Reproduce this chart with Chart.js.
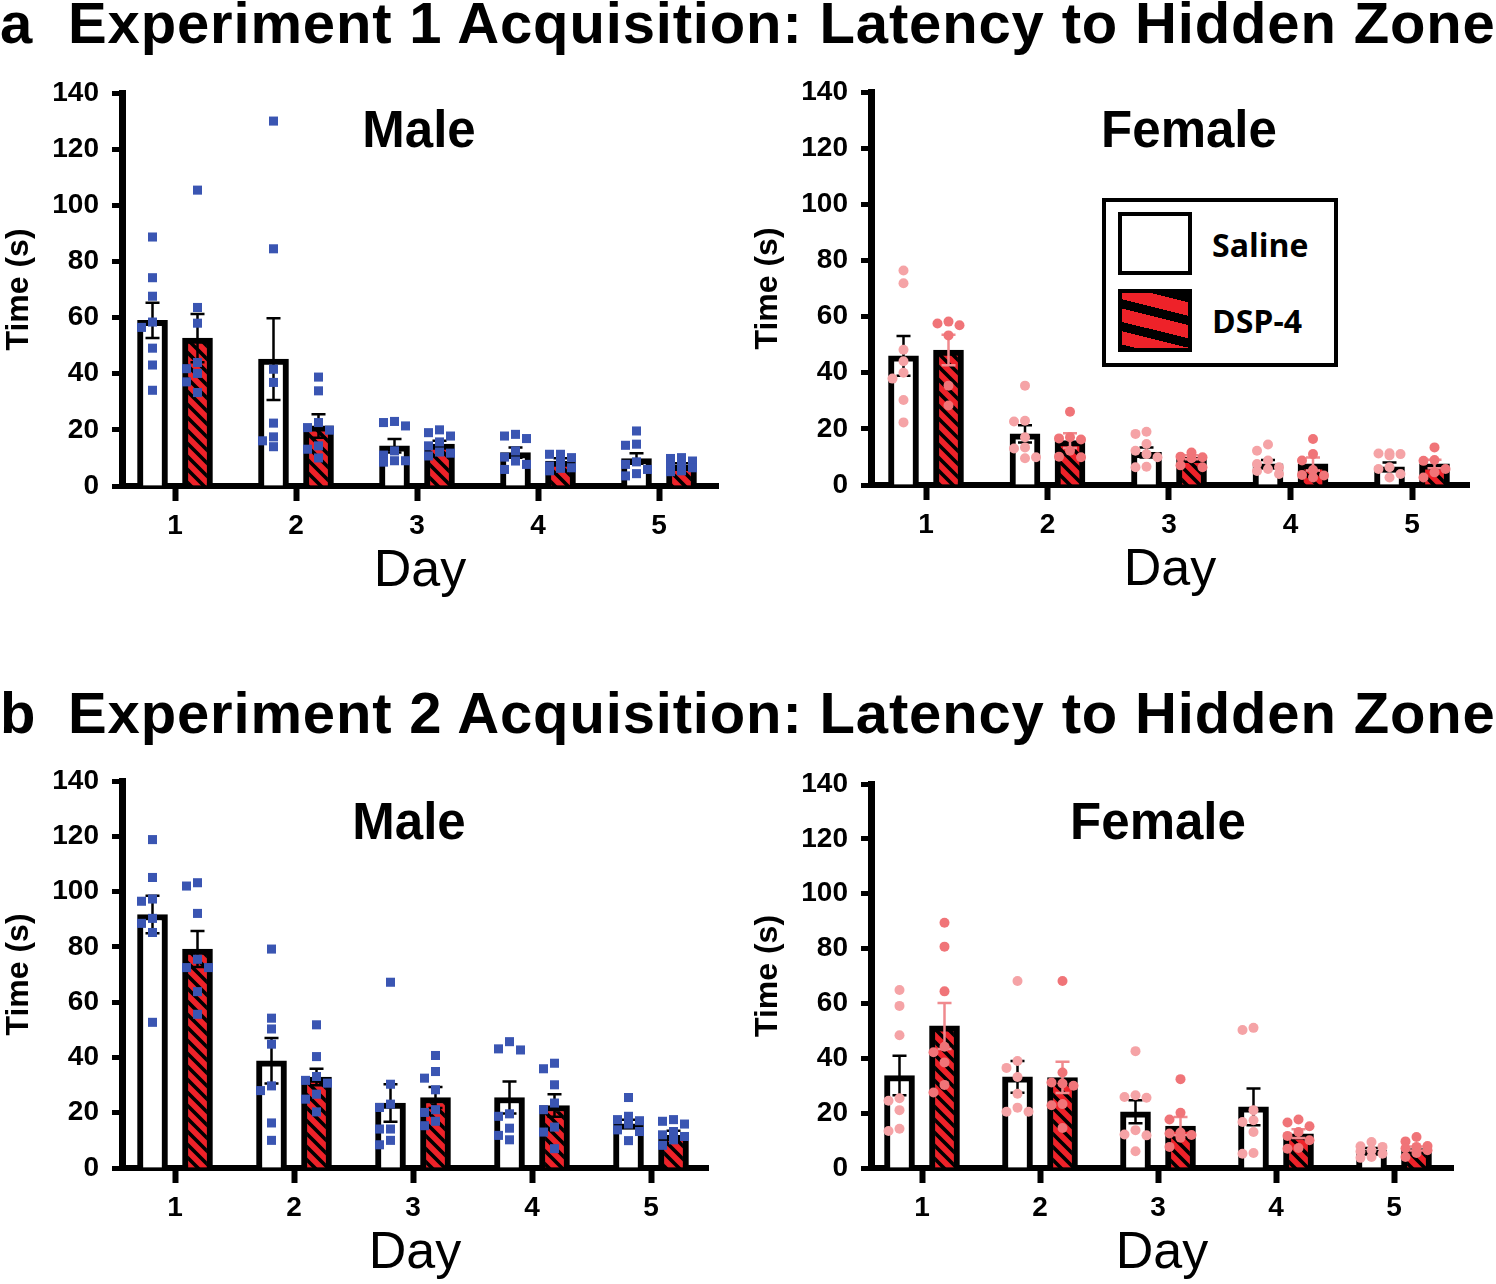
<!DOCTYPE html>
<html>
<head>
<meta charset="utf-8">
<script src="https://cdn.jsdelivr.net/npm/chart.js@4.4.0/dist/chart.umd.min.js"></script>
<style>
  html, body { margin: 0; padding: 0; background: #fff; }
  body { width: 1496px; height: 1284px; position: relative; overflow: hidden;
         font-family: 'Liberation Sans', Arial, sans-serif; color: #000; }
  canvas { position: absolute; }
  .txt { position: absolute; white-space: nowrap; line-height: 1; z-index: 2; }
  .head { font-weight: bold; font-size: 58px; letter-spacing: 0.85px; }
  .ptitle { font-weight: bold; font-size: 51px; transform: translateX(-50%); }
  .legend { position: absolute; box-sizing: border-box; border: 4px solid #000; background: #fff; z-index: 2; }
  .swatch { position: absolute; box-sizing: border-box; border: 4px solid #000; z-index: 3; }
  .legtxt { font-family: 'Open Sans', sans-serif; font-weight: 700; font-size: 32px; z-index: 3; }
</style>
</head>
<body>

<div class="txt head" style="left:0px;top:-6px;">a</div>
<div class="txt head" style="left:68px;top:-6px;">Experiment 1 Acquisition: Latency to Hidden Zone</div>
<div class="txt head" style="left:0px;top:684px;">b</div>
<div class="txt head" style="left:68px;top:684px;">Experiment 2 Acquisition: Latency to Hidden Zone</div>

<div class="txt ptitle" style="left:419px;top:104px;">Male</div>
<div class="txt ptitle" style="left:1189px;top:104px;">Female</div>
<div class="txt ptitle" style="left:409px;top:796px;">Male</div>
<div class="txt ptitle" style="left:1158px;top:796px;">Female</div>

<div class="legend" style="left:1102px;top:198px;width:236px;height:169px;"></div>
<div class="swatch" style="left:1118px;top:212px;width:74px;height:63px;background:#fff;"></div>
<div class="swatch" id="dspSwatch" style="left:1118px;top:289px;width:74px;height:63px;"></div>
<div class="txt legtxt" id="legSaline" style="left:1212px;top:229px;"></div>
<div class="txt legtxt" id="legDsp" style="left:1212px;top:305px;"></div>

<canvas id="c-e1-male"></canvas>
<canvas id="c-e1-female"></canvas>
<canvas id="c-e2-male"></canvas>
<canvas id="c-e2-female"></canvas>

<script>
// ---- data ----
const days = [1, 2, 3, 4, 5];
const yTicks = [0, 20, 40, 60, 80, 100, 120, 140];
const groupLabels = ['Saline', 'DSP-4'];

// Experiment 1, male
const e1MaleSalineMean = [59.0, 45.2, 14.3, 11.9, 9.8];
const e1MaleSalineSem  = [6.3, 14.6, 2.4, 1.8, 1.9];
const e1MaleDspMean    = [52.7, 21.4, 14.9, 8.9, 7.4];
const e1MaleDspSem     = [8.6, 4.2, 1.2, 1.0, 0.7];
const e1MaleSalinePts = [
  [88.7, 74.2, 67.6, 58.4, 56.5, 49.1, 43.1, 34.1],
  [130, 84.5, 41.6, 36.9, 22.4, 17.5, 16.1, 14.0],
  [23.0, 22.6, 21.4, 12.5, 11.0, 9.0, 9.0, 8.5],
  [18.4, 17.8, 16.9, 12.5, 10.3, 8.9, 7.7, 5.9],
  [19.6, 14.9, 14.5, 8.6, 7.7, 5.9, 4.4, 3.6]
];
const e1MaleDspPts = [
  [105.4, 63.6, 58.0, 44.0, 41.8, 40.1, 37.1, 33.3],
  [38.8, 33.9, 22.6, 20.8, 19.9, 14.3, 13.1, 10.0],
  [20.0, 19.0, 17.8, 15.7, 14.3, 12.1, 11.7, 10.7],
  [11.3, 11.3, 10.1, 8.6, 7.1, 6.5, 6.3, 5.4],
  [10.1, 9.8, 8.9, 7.7, 7.0, 6.5, 5.4, 5.1]
];

// Experiment 1, female
const e1FemaleSalineMean = [46.0, 18.2, 11.6, 7.5, 6.5];
const e1FemaleSalineSem  = [7.1, 3.1, 1.8, 1.4, 1.5];
const e1FemaleDspMean    = [48.1, 15.8, 9.9, 7.5, 7.5];
const e1FemaleDspSem     = [5.4, 2.6, 0.7, 2.3, 1.5];
const e1FemaleSalinePts = [
  [76.4, 71.9, 48.2, 44.1, 40.0, 37.9, 30.3, 22.3],
  [35.4, 22.9, 22.6, 17.0, 13.4, 13.0, 9.9, 9.5],
  [19.0, 18.2, 14.6, 12.2, 11.0, 9.9, 6.5, 6.3],
  [14.4, 12.2, 8.7, 7.5, 6.3, 5.7, 5.0, 3.9],
  [11.3, 11.2, 11.0, 10.5, 6.3, 5.7, 3.9, 2.7]
];
const e1FemaleDspPts = [
  [58.2, 57.5, 56.9, 53.3, 35.4, 28.3],
  [26.1, 17.0, 16.6, 16.2, 12.2, 10.1, 9.9],
  [11.6, 10.1, 9.9, 9.5, 7.0, 6.3],
  [16.4, 11.0, 8.7, 5.3, 3.6, 3.4, 2.7],
  [13.4, 8.9, 8.6, 5.7, 4.5, 2.7]
];

// Experiment 2, male
const e2MaleSalineMean = [91.7, 38.8, 23.5, 25.5, 16.0];
const e2MaleSalineSem  = [6.8, 8.2, 6.8, 5.8, 1.5];
const e2MaleDspMean    = [79.2, 32.9, 25.5, 22.6, 11.8];
const e2MaleDspSem     = [6.5, 3.0, 3.8, 4.1, 1.7];
const e2MaleSalinePts = [
  [118.8, 105.1, 97.3, 96.5, 90.3, 88.5, 85.2, 52.7],
  [79.2, 54.2, 50.3, 44.8, 29.7, 28.0, 16.3, 10.0],
  [67.2, 30.3, 23.1, 21.9, 14.1, 14.1, 10.0, 8.4],
  [45.7, 43.1, 42.7, 19.6, 18.7, 14.4, 11.8, 10.2],
  [25.5, 18.7, 17.5, 17.1, 15.9, 13.8, 13.2, 9.9]
];
const e2MaleDspPts = [
  [103.2, 102.0, 92.1, 75.5, 72.5, 72.5, 63.8, 55.6],
  [51.8, 40.3, 33.1, 31.7, 30.7, 26.7, 24.9, 20.3],
  [40.7, 34.9, 32.5, 28.3, 21.1, 20.1, 16.9, 15.3],
  [37.9, 35.9, 30.1, 23.5, 21.1, 14.8, 13.0, 7.0],
  [17.5, 16.9, 15.9, 13.2, 12.0, 11.4, 10.2, 8.2]
];

// Experiment 2, female
const e2FemaleSalineMean = [33.7, 33.2, 20.5, 22.3, 6.5];
const e2FemaleSalineSem  = [7.2, 5.8, 4.2, 6.7, 0.8];
const e2FemaleDspMean    = [51.8, 33.0, 15.3, 12.5, 7.1];
const e2FemaleDspSem     = [8.4, 5.7, 3.3, 1.6, 0.7];
const e2FemaleSalinePts = [
  [64.9, 59.1, 48.4, 25.4, 24.5, 21.1, 14.3, 13.5],
  [68.2, 39.0, 36.5, 33.2, 27.1, 22.0, 20.5, 20.5],
  [42.6, 26.5, 25.9, 25.6, 13.8, 12.2, 11.9, 6.1],
  [51.1, 50.3, 21.1, 17.4, 16.8, 13.1, 5.5, 5.2],
  [9.5, 7.9, 7.7, 6.5, 6.0, 5.2, 4.0, 3.7]
];
const e2FemaleDspPts = [
  [89.4, 80.7, 64.4, 44.2, 42.2, 38.5, 30.3, 27.5],
  [68.2, 34.8, 31.2, 30.8, 30.0, 23.3, 22.9, 14.6],
  [32.4, 20.1, 17.7, 12.9, 12.6, 12.0, 11.0, 7.7],
  [17.7, 16.6, 15.2, 13.1, 11.7, 10.1, 7.3, 7.0],
  [11.3, 9.7, 8.0, 7.7, 7.2, 6.5, 5.5, 4.0]
];

// ---- styling ----
const FONT = "'Liberation Sans', Arial, sans-serif";
const RED = '#ee2229';
const MALE_DOT = '#3a55b2';
const FEMALE_SAL_DOT = '#f5a3a6';
const FEMALE_DSP_DOT = '#f07478';
const FEMALE_DSP_ERR = '#f08a8e';

function stripePattern(size, width) {
  const c = document.createElement('canvas');
  c.width = c.height = size;
  const g = c.getContext('2d');
  g.fillStyle = RED;
  g.fillRect(0, 0, size, size);
  g.strokeStyle = '#000';
  g.lineWidth = width;
  g.beginPath();
  for (const k of [-1, 0, 1]) {
    g.moveTo(k * size - size, -size);
    g.lineTo(k * size + 2 * size, 2 * size);
  }
  g.stroke();
  return g.createPattern(c, 'repeat');
}
const barPattern = stripePattern(13, 3.6);

// spread overlapping dots over three columns (centre, left, right)
function swarmColumns(values, pxPerUnit, size) {
  const placed = [];
  return values.map(v => {
    const py = v * pxPerUnit;
    let best = 0, bestGap = -1;
    for (const k of [0, -1, 1]) {
      const gap = Math.min(Infinity, ...placed.filter(p => p.k === k).map(p => Math.abs(p.py - py)));
      if (gap >= size) { best = k; bestGap = Infinity; break; }
      if (gap > bestGap) { best = k; bestGap = gap; }
    }
    placed.push({ k: best, py });
    return best;
  });
}

const errorBarPlugin = {
  id: 'errorBars',
  afterDatasetDraw(chart, args) {
    const ds = chart.data.datasets[args.index];
    if (!ds.sem) return;
    const y = chart.scales.y;
    const ctx = chart.ctx;
    ctx.save();
    ctx.strokeStyle = ds.errorColor;
    ctx.lineWidth = 2.5;
    args.meta.data.forEach((bar, i) => {
      const m = ds.data[i].y, e = ds.sem[i];
      const top = y.getPixelForValue(m + e);
      const bot = y.getPixelForValue(m - e);
      ctx.beginPath();
      ctx.moveTo(bar.x, top); ctx.lineTo(bar.x, bot);
      ctx.moveTo(bar.x - 7, top); ctx.lineTo(bar.x + 7, top);
      ctx.moveTo(bar.x - 7, bot); ctx.lineTo(bar.x + 7, bot);
      ctx.stroke();
    });
    ctx.restore();
  }
};

const panels = [
  { id: 'c-e1-male', male: true, area: { left: 122, top: 93, right: 718, bottom: 486 }, day1: 175, step: 121,
    sal: [e1MaleSalineMean, e1MaleSalineSem, e1MaleSalinePts], dsp: [e1MaleDspMean, e1MaleDspSem, e1MaleDspPts] },
  { id: 'c-e1-female', male: false, area: { left: 871, top: 92, right: 1469, bottom: 485 }, day1: 926, step: 121.5,
    sal: [e1FemaleSalineMean, e1FemaleSalineSem, e1FemaleSalinePts], dsp: [e1FemaleDspMean, e1FemaleDspSem, e1FemaleDspPts] },
  { id: 'c-e2-male', male: true, area: { left: 122, top: 781, right: 708, bottom: 1168 }, day1: 175, step: 119,
    sal: [e2MaleSalineMean, e2MaleSalineSem, e2MaleSalinePts], dsp: [e2MaleDspMean, e2MaleDspSem, e2MaleDspPts] },
  { id: 'c-e2-female', male: false, area: { left: 871, top: 784, right: 1453, bottom: 1168 }, day1: 922, step: 118,
    sal: [e2FemaleSalineMean, e2FemaleSalineSem, e2FemaleSalinePts], dsp: [e2FemaleDspMean, e2FemaleDspSem, e2FemaleDspPts] }
];

const BAR_OFFSET_PX = 22.5;
const COL_PX = 11;

function buildPanel(p) {
  const a = p.area;
  const box = { left: a.left - 122, top: a.top - 45, width: a.right - a.left + 122 + 22, height: a.bottom - a.top + 45 + 120 };
  const cv = document.getElementById(p.id);
  cv.width = box.width; cv.height = box.height;
  cv.style.left = box.left + 'px'; cv.style.top = box.top + 'px';

  const xMin = 1 - (p.day1 - a.left) / p.step;
  const xMax = 5 + (a.right - (p.day1 + 4 * p.step)) / p.step;
  const off = BAR_OFFSET_PX / p.step;
  const pxPerUnit = (a.bottom - a.top) / 140;
  const dotSize = p.male ? 9 : 10;

  const barSet = (stats, side, label) => ({
    type: 'bar',
    label,
    data: days.map((d, i) => ({ x: d + side * off, y: stats[0][i] })),
    sem: stats[1],
    errorColor: (!p.male && side > 0) ? FEMALE_DSP_ERR : '#000',
    backgroundColor: side < 0 ? '#fff' : barPattern,
    borderColor: '#000',
    borderWidth: 6,
    barThickness: 30,
    grouped: false,
    order: 3
  });
  const dotSet = (stats, side, color) => ({
    type: 'scatter',
    data: days.flatMap((d, i) => {
      const cols = swarmColumns(stats[2][i], pxPerUnit, dotSize);
      return stats[2][i].map((v, j) => ({ x: d + side * off + cols[j] * COL_PX / p.step, y: v }));
    }),
    pointStyle: p.male ? 'rect' : 'circle',
    pointRadius: p.male ? 6.4 : 5,
    pointBorderWidth: 0,
    pointBackgroundColor: color,
    order: 1
  });

  const salColor = p.male ? MALE_DOT : FEMALE_SAL_DOT;
  const dspColor = p.male ? MALE_DOT : FEMALE_DSP_DOT;

  new Chart(cv, {
    type: 'bar',
    data: {
      datasets: [
        barSet(p.sal, -1, groupLabels[0]),
        barSet(p.dsp, 1, groupLabels[1]),
        dotSet(p.sal, -1, salColor),
        dotSet(p.dsp, 1, dspColor)
      ]
    },
    plugins: [errorBarPlugin],
    options: {
      responsive: false,
      animation: false,
      events: [],
      layout: { padding: { left: 0, top: a.top - box.top, right: box.left + box.width - a.right, bottom: 0 } },
      plugins: { legend: { display: false }, tooltip: { enabled: false } },
      scales: {
        x: {
          type: 'linear', min: xMin, max: xMax, offset: false,
          afterBuildTicks: s => { s.ticks = days.map(v => ({ value: v })); },
          afterFit: s => { s.height = box.top + box.height - a.bottom; },
          grid: { offset: false, drawOnChartArea: false, drawTicks: true, tickLength: 15, tickWidth: 6, tickColor: '#000' },
          border: { display: true, width: 6, color: '#000' },
          ticks: { color: '#000', padding: 8, maxRotation: 0, font: { family: FONT, size: 28, weight: 'bold' } },
          title: { display: true, text: 'Day', color: '#000', padding: { top: 0, bottom: 8 },
                   font: { family: FONT, size: 52, weight: 'normal', lineHeight: 1 } }
        },
        y: {
          min: 0, max: 140,
          afterBuildTicks: s => { s.ticks = yTicks.map(v => ({ value: v })); },
          afterFit: s => { s.width = a.left - box.left; },
          grid: { drawOnChartArea: false, drawTicks: true, tickLength: 10, tickWidth: 5, tickColor: '#000' },
          border: { display: true, width: 7, color: '#000' },
          ticks: { color: '#000', padding: 13, font: { family: FONT, size: 28, weight: 'bold' } },
          title: { display: true, text: 'Time (s)', color: '#000', padding: { top: 3, bottom: 0 },
                   font: { family: FONT, size: 32, weight: 'bold', lineHeight: 1 } }
        }
      }
    }
  });
}

panels.forEach(buildPanel);

// legend (shares the labels and stripe look with the bars)
document.getElementById('legSaline').textContent = groupLabels[0];
document.getElementById('legDsp').textContent = groupLabels[1];
document.getElementById('dspSwatch').style.background =
  'repeating-linear-gradient(194deg, #000 0px, #000 9px, ' + RED + ' 9px, ' + RED + ' 22px)';
</script>
</body>
</html>
